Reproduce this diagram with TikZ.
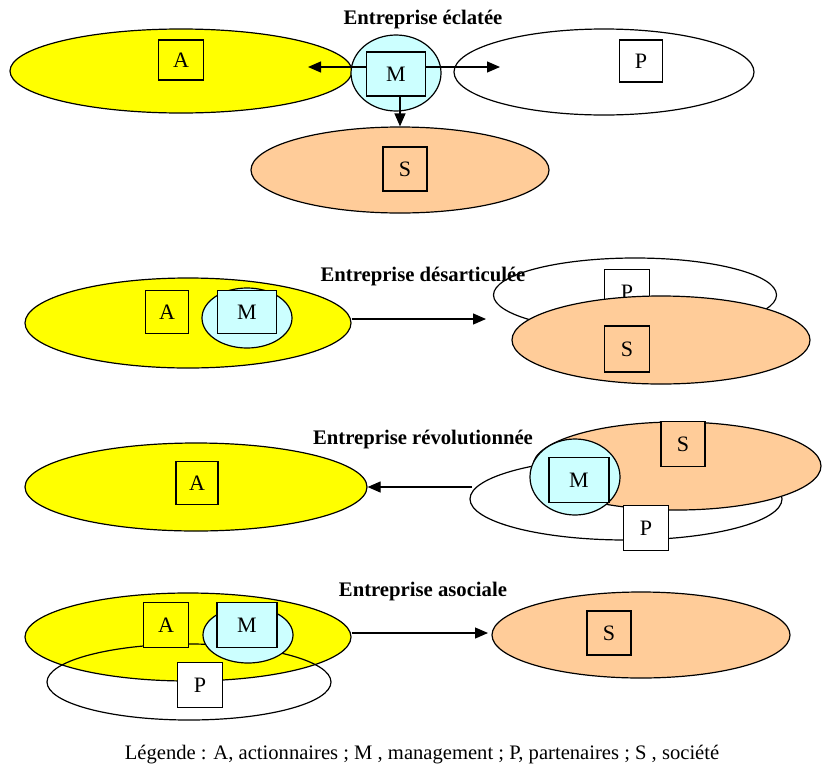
\documentclass[tikz,border=0pt]{standalone}
\usepackage{fontspec}
\setmainfont{Liberation Serif}
\usetikzlibrary{shapes.geometric,arrows.meta}
\definecolor{ayellow}{RGB}{255,255,0}
\definecolor{mcyan}{RGB}{204,255,255}
\definecolor{sorange}{RGB}{255,204,153}
\tikzset{
  ell/.style={ellipse, draw, line width=1.2pt, inner sep=0pt},
  bx/.style={rectangle, draw, line width=1.2pt, inner sep=0pt, minimum width=45pt, minimum height=45pt, font=\fontsize{22}{26}\selectfont},
  ttl/.style={font=\bfseries\fontsize{20.7}{24}\selectfont, inner sep=0pt},
  lgd/.style={font=\fontsize{20.6}{24}\selectfont, inner sep=0pt},
  arr/.style={-{Triangle[length=13pt,width=11pt]}, line width=1.2pt},
  yel/.style={fill=ayellow},
  cya/.style={fill=mcyan},
  ora/.style={fill=sorange},
  wht/.style={fill=white}
}
\begin{document}
\begin{tikzpicture}[x=1pt,y=-1pt]
\useasboundingbox[fill=white] (0,0) rectangle (822,769);

% ---------- Section 1 : Entreprise eclatee ----------
\node[ttl] (t1) at (423,20) {Entreprise éclatée};
\node[ell,yel,minimum width=342pt,minimum height=84pt] (A1ell) at (181,71) {};
\node[ell,wht,minimum width=300pt,minimum height=86pt] (P1ell) at (604,72) {};
\node[ell,ora,minimum width=298pt,minimum height=86pt] (S1ell) at (400,170) {};
\node[bx,yel,minimum width=45pt,minimum height=40pt] (A1box) at (181,60) {A};
\node[bx,wht,minimum width=43pt,minimum height=42pt] (P1box) at (641,61) {P};
\node[bx,ora,minimum width=44pt,minimum height=44pt] (S1box) at (405,169) {S};
\node[ell,cya,minimum width=90pt,minimum height=76pt] (M1circ) at (396,73) {};
\node[bx,cya,minimum width=59pt,minimum height=44pt] (M1box) at (396,74) {M};
\coordinate (e1L) at (308,67);
\coordinate (e1R) at (500,67);
\draw[arr] (e1L -| M1box.west) -- (e1L);
\draw[arr] (e1R -| M1box.east) -- (e1R);
\draw[arr] (S1ell.north |- M1box.south) -- (S1ell.north);

% ---------- Section 2 : Entreprise desarticulee ----------
\node[ell,yel,minimum width=326pt,minimum height=90pt] (A2ell) at (188,323) {};
\node[bx,yel,minimum width=43pt,minimum height=43pt] (A2box) at (167,312) {A};
\node[ell,cya,minimum width=90pt,minimum height=60pt] (M2circ) at (247,318) {};
\node[bx,cya,minimum width=59pt,minimum height=43pt] (M2box) at (247,312) {M};
\node[ell,wht,minimum width=283pt,minimum height=74pt] (P2ell) at (635,295) {};
\node[bx,wht,minimum width=45pt,minimum height=45pt] (P2box) at (627,292) {P};
\node[ell,ora,minimum width=298pt,minimum height=88pt] (S2ell) at (661,340) {};
\node[bx,ora,minimum width=45pt,minimum height=46pt] (S2box) at (627,349) {S};
\node[ttl] (t2) at (423,277) {Entreprise désarticulée};
\coordinate (e2) at (486,319);
\draw[arr] (e2 -| A2ell.east) -- (e2);

% ---------- Section 3 : Entreprise revolutionnee ----------
\node[ttl] (t3) at (423,440) {Entreprise révolutionnée};
\node[ell,yel,minimum width=342pt,minimum height=88pt] (A3ell) at (196,487) {};
\node[bx,yel,minimum width=42pt,minimum height=43pt] (A3box) at (197,483) {A};
\node[ell,wht,minimum width=312pt,minimum height=82pt] (P3ell) at (626,499) {};
\node[ell,ora,minimum width=288pt,minimum height=88pt] (S3ell) at (677,466) {};
\node[bx,ora,minimum width=44pt,minimum height=45pt] (S3box) at (683,444) {S};
\node[ell,cya,minimum width=90pt,minimum height=76pt] (M3circ) at (575,477) {};
\node[bx,cya,minimum width=60pt,minimum height=45pt] (M3box) at (579,480) {M};
\node[bx,wht,minimum width=45pt,minimum height=45pt] (P3box) at (646,528) {P};
\coordinate (s3) at (472,487);
\draw[arr] (s3) -- (s3 -| A3ell.east);

% ---------- Section 4 : Entreprise asociale ----------
\node[ttl] (t4) at (423,592) {Entreprise asociale};
\node[ell,yel,minimum width=326pt,minimum height=88pt] (A4ell) at (188,637) {};
\node[ell,minimum width=284pt,minimum height=76pt] (P4ell) at (189,682) {};
\node[bx,yel,minimum width=45pt,minimum height=45pt] (A4box) at (166,625) {A};
\node[ell,cya,minimum width=90pt,minimum height=56pt] (M4circ) at (248,635) {};
\node[bx,cya,minimum width=60pt,minimum height=45pt] (M4box) at (247,625) {M};
\node[bx,wht,minimum width=45pt,minimum height=45pt] (P4box) at (200,685) {P};
\node[ell,ora,minimum width=298pt,minimum height=86pt] (S4ell) at (641,635) {};
\node[bx,ora,minimum width=44pt,minimum height=44pt] (S4box) at (609,633) {S};
\coordinate (e4) at (488,633);
\draw[arr] (e4 -| A4ell.east) -- (e4);

% ---------- Legend ----------
\node[lgd] (lg) at (422,755) {Légende : A, actionnaires ; M , management ; P, partenaires ; S , société};
\end{tikzpicture}
\end{document}
